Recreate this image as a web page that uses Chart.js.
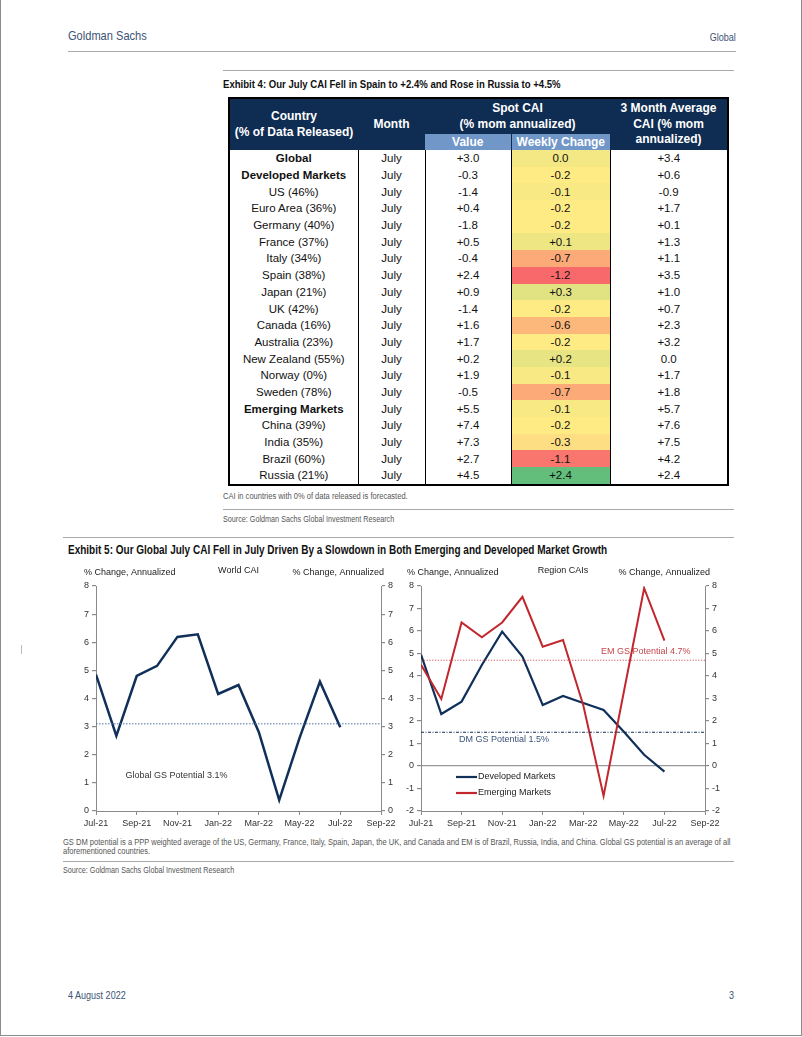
<!DOCTYPE html>
<html>
<head>
<meta charset="utf-8">
<title>CAI</title>
<script src="https://cdn.jsdelivr.net/npm/chart.js@4.4.0/dist/chart.umd.min.js"></script>
<style>
  body { margin: 0; background: #fff; }
  #page {
    position: relative; width: 800px; height: 1035px; overflow: hidden;
    border: 1px solid #8c8c8c; border-top: none;
    font-family: "Liberation Sans", Arial, sans-serif;
  }
  /* no narrow face installed: squeeze Liberation Sans like Arial Narrow */
  .t {
    position: absolute; white-space: nowrap;
    font-family: "Liberation Sans", Arial, sans-serif;
    transform: scaleX(0.82); transform-origin: 0 0;
  }
  .t.r { transform-origin: 100% 0; }
  .rule { position: absolute; height: 0; border-top: 1px solid #a9a9a9; }
  .brand { color: #3b5374; font-size: 13.5px; line-height: 16px; }
  .exh { font-weight: bold; font-size: 12px; line-height: 13px; color: #111; }
  .note { font-size: 9.2px; line-height: 9px; color: #555; }
  .src { font-size: 8.8px; line-height: 10px; color: #555; }

  #cai {
    position: absolute; left: 227px; top: 97px; width: 499px;
    border-collapse: collapse; table-layout: fixed;
    border: 2px solid #000; font-size: 11.5px; color: #111;
  }
  #cai th {
    background: #0f2c52; color: #fff; font-weight: bold; font-size: 12px;
    line-height: 15.5px; padding: 0; text-align: center;
  }
  #cai th.sub { background: #7196c8; height: 16px; line-height: 15px; }
  #cai th.sub + th.sub { border-left: 1px solid #0f2c52; }
  #cai td { padding: 0; height: 16.7px; line-height: 16px; text-align: center; }
  #cai td + td { border-left: 1.5px solid #000; }
  #cai td.b { font-weight: bold; }

  .chartbox { position: absolute; }
</style>
</head>
<body>
<div id="page">
  <div class="t brand" style="left:67px; top:28px;">Goldman Sachs</div>
  <div class="t brand r" style="right:65px; top:30px; font-size:11px; line-height:14px;">Global</div>
  <div class="rule" style="left:67px; top:51px; width:668px;"></div>

  <div class="rule" style="left:222px; top:70px; width:511px;"></div>
  <div class="t exh" style="left:222px; top:77px; font-size:11.7px;">Exhibit 4: Our July CAI Fell in Spain to +2.4% and Rose in Russia to +4.5%</div>

  <table id="cai">
    <colgroup>
      <col style="width:129px"><col style="width:67px"><col style="width:86px"><col style="width:99px"><col style="width:118px">
    </colgroup>
    <thead>
      <tr style="height:36px">
        <th rowspan="2">Country<br>(% of Data Released)</th>
        <th rowspan="2">Month</th>
        <th colspan="2">Spot CAI<br>(% mom annualized)</th>
        <th rowspan="2">3 Month Average<br>CAI (% mom<br>annualized)</th>
      </tr>
      <tr>
        <th class="sub">Value</th>
        <th class="sub">Weekly Change</th>
      </tr>
    </thead>
    <tbody id="caiBody"></tbody>
  </table>

  <div class="t note" style="left:222px; top:492px;">CAI in countries with 0% of data released is forecasted.</div>
  <div class="rule" style="left:222px; top:509px; width:511px;"></div>
  <div class="t src" style="left:222px; top:514px;">Source: Goldman Sachs Global Investment Research</div>

  <div class="rule" style="left:62px; top:537px; width:671px;"></div>
  <div class="t exh" style="left:67px; top:544px; font-size:12.2px;">Exhibit 5: Our Global July CAI Fell in July Driven By a Slowdown in Both Emerging and Developed Market Growth</div>

  <div class="chartbox" style="left:62px; top:562px; width:338px; height:270px;">
    <canvas id="worldChart" width="338" height="270"></canvas>
  </div>
  <div class="chartbox" style="left:400px; top:562px; width:330px; height:270px;">
    <canvas id="regionChart" width="330" height="270"></canvas>
  </div>

  <div class="t note" style="left:62px; top:838px;">GS DM potential is a PPP weighted average of the US, Germany, France, Italy, Spain, Japan, the UK, and Canada and EM is of Brazil, Russia, India, and China. Global GS potential is an average of all</div>
  <div class="t note" style="left:62px; top:847px;">aforementioned countries.</div>
  <div class="rule" style="left:62px; top:861px; width:671px;"></div>
  <div class="t src" style="left:62px; top:865px;">Source: Goldman Sachs Global Investment Research</div>

  <div style="position:absolute; left:20px; top:645px; width:0; height:9px; border-left:1px solid #bbb;"></div>

  <div class="t brand" style="left:67px; top:988px; font-size:11px; line-height:14px;">4 August 2022</div>
  <div class="t brand r" style="right:67px; top:988px; font-size:11px; line-height:14px;">3</div>
</div>

<script>
// ─── Exhibit 4 table data ────────────────────────────────────────────────

const countries = [
  'Global', 'Developed Markets', 'US (46%)', 'Euro Area (36%)', 'Germany (40%)',
  'France (37%)', 'Italy (34%)', 'Spain (38%)', 'Japan (21%)', 'UK (42%)',
  'Canada (16%)', 'Australia (23%)', 'New Zealand (55%)', 'Norway (0%)', 'Sweden (78%)',
  'Emerging Markets', 'China (39%)', 'India (35%)', 'Brazil (60%)', 'Russia (21%)',
];
const boldRows = ['Global', 'Developed Markets', 'Emerging Markets'];
const monthName = 'July';
const spotValue    = [3.0, -0.3, -1.4, 0.4, -1.8, 0.5, -0.4, 2.4, 0.9, -1.4, 1.6, 1.7, 0.2, 1.9, -0.5, 5.5, 7.4, 7.3, 2.7, 4.5];
const weeklyChange = [0.0, -0.2, -0.1, -0.2, -0.2, 0.1, -0.7, -1.2, 0.3, -0.2, -0.6, -0.2, 0.2, -0.1, -0.7, -0.1, -0.2, -0.3, -1.1, 2.4];
const threeMonth   = [3.4, 0.6, -0.9, 1.7, 0.1, 1.3, 1.1, 3.5, 1.0, 0.7, 2.3, 3.2, 0.0, 1.7, 1.8, 5.7, 7.6, 7.5, 4.2, 2.4];

// ─── Exhibit 5 chart data ────────────────────────────────────────────────

const monthLabels = ['Jul-21', 'Aug-21', 'Sep-21', 'Oct-21', 'Nov-21', 'Dec-21', 'Jan-22',
  'Feb-22', 'Mar-22', 'Apr-22', 'May-22', 'Jun-22', 'Jul-22', 'Aug-22', 'Sep-22'];
const worldCai     = [4.85, 2.67, 4.8, 5.16, 6.19, 6.28, 4.16, 4.48, 2.8, 0.39, 2.6, 4.6, 2.98];
const developedCai = [4.95, 2.31, 2.86, 4.49, 5.97, 4.86, 2.71, 3.11, 2.8, 2.49, 1.52, 0.5, -0.25];
const emergingCai  = [4.5, 2.98, 6.38, 5.72, 6.38, 7.52, 5.3, 5.6, 2.7, -1.33, 3.3, 7.9, 5.57];
const globalPotential = 3.1;
const dmPotential = 1.5;
const emPotential = 4.7;

// ─── Table ───────────────────────────────────────────────────────────────

function fmt(v) {
  return v > 0 ? '+' + v.toFixed(1) : v.toFixed(1);
}

// Excel style 3-colour scale: red (min) / yellow (median) / green (max)
function scaleColor(v, arr) {
  const sorted = [...arr].sort((a, b) => a - b);
  const n = sorted.length;
  const mid = n % 2 ? sorted[(n - 1) / 2] : (sorted[n / 2 - 1] + sorted[n / 2]) / 2;
  const lo = sorted[0], hi = sorted[n - 1];
  const red = [248, 105, 107], yel = [255, 235, 132], grn = [99, 190, 123];
  let a, b, t;
  if (v <= mid) { a = red; b = yel; t = (v - lo) / (mid - lo); }
  else { a = yel; b = grn; t = (v - mid) / (hi - mid); }
  const c = a.map((x, i) => Math.round(x + (b[i] - x) * t));
  return `rgb(${c[0]},${c[1]},${c[2]})`;
}

const body = document.getElementById('caiBody');
countries.forEach((name, i) => {
  const tr = document.createElement('tr');
  const cells = [name, monthName, fmt(spotValue[i]), fmt(weeklyChange[i]), fmt(threeMonth[i])];
  cells.forEach((txt, j) => {
    const td = document.createElement('td');
    td.textContent = txt;
    if (j === 0 && boldRows.includes(name)) td.className = 'b';
    if (j === 3) td.style.background = scaleColor(weeklyChange[i], weeklyChange);
    tr.appendChild(td);
  });
  body.appendChild(tr);
});

// ─── Charts ──────────────────────────────────────────────────────────────

const FONT = '"Liberation Sans", Arial, sans-serif';
const NAVY = '#10305a';
const RED = '#c1272d';
const AXIS = '#8a8a8a';
const AXIS_TITLE = '% Change, Annualized';

Chart.defaults.font.family = FONT;
Chart.defaults.font.size = 9;
Chart.defaults.color = '#333';

const pts = arr => arr.map((y, x) => ({ x, y }));
const flat = v => [{ x: 0, y: v }, { x: monthLabels.length - 1, y: v }];

const pageText = {
  id: 'pageText',
  afterDraw(chart, args, o) {
    const { ctx, chartArea: a, scales } = chart;
    ctx.save();
    ctx.font = `9px ${FONT}`;
    ctx.textBaseline = 'middle';
    ctx.fillStyle = '#222';
    ctx.textAlign = 'left';
    ctx.fillText(AXIS_TITLE, a.left - o.leftOut, a.top - 13);
    ctx.textAlign = 'right';
    ctx.fillText(AXIS_TITLE, a.right + o.rightOut, a.top - 13);
    ctx.textAlign = 'center';
    ctx.fillText(o.title, (a.left + a.right) / 2, a.top - 15);

    ctx.textAlign = 'left';
    (o.notes || []).forEach(n => {
      ctx.fillStyle = n.color;
      ctx.fillText(n.text, scales.x.getPixelForValue(n.x), scales.y.getPixelForValue(n.y));
    });

    (o.legend || []).forEach((it, k) => {
      const y = a.bottom - 34 + k * 16;
      ctx.strokeStyle = it.color;
      ctx.lineWidth = 2.2;
      ctx.beginPath();
      ctx.moveTo(a.left + 35, y);
      ctx.lineTo(a.left + 56, y);
      ctx.stroke();
      ctx.fillStyle = '#222';
      ctx.fillText(it.label, a.left + 57, y);
    });
    ctx.restore();
  },
};

function yAxis(pos, min, max, width, zeroLine) {
  return {
    type: 'linear', position: pos, min, max,
    afterFit: s => { s.width = width; },
    ticks: { stepSize: 1, padding: 3, color: '#333' },
    border: { display: true, color: AXIS, width: 1 },
    grid: {
      drawOnChartArea: !!zeroLine,
      color: c => (zeroLine && c.tick && c.tick.value === 0 ? '#9a9a9a' : 'transparent'),
      lineWidth: 1.2,
      tickColor: AXIS,
      tickLength: 4,
    },
  };
}

function xAxis() {
  return {
    type: 'linear', min: 0, max: monthLabels.length - 1,
    afterFit: s => { s.height = 21; },
    ticks: {
      stepSize: 2, autoSkip: false, maxRotation: 0, padding: 3, color: '#333',
      callback: v => monthLabels[v] ?? '',
    },
    border: { display: true, color: AXIS, width: 1 },
    grid: { drawOnChartArea: false, tickColor: AXIS, tickLength: 4 },
  };
}

function lineSet(label, data, color, width) {
  return {
    label, data, borderColor: color, borderWidth: width,
    pointRadius: 0, tension: 0, fill: false,
  };
}

function refSet(label, value, color, dash, width) {
  return {
    label, data: flat(value), borderColor: color, borderWidth: width || 1,
    borderDash: dash, pointRadius: 0, fill: false,
  };
}

const baseOptions = {
  responsive: false,
  animation: false,
  events: [],
  layout: { padding: { top: 24, right: 0, bottom: 0, left: 0 } },
};

new Chart(document.getElementById('worldChart'), {
  type: 'line',
  data: {
    datasets: [
      refSet('Global GS Potential', globalPotential, '#4f72a0', [1.5, 1.5], 1),
      lineSet('World CAI', pts(worldCai), NAVY, 2.5),
    ],
  },
  options: {
    ...baseOptions,
    scales: {
      x: xAxis(),
      y: yAxis('left', 0, 8, 33, false),
      y2: yAxis('right', 0, 8, 20, false),
    },
    plugins: {
      legend: { display: false },
      tooltip: { enabled: false },
      pageText: {
        title: 'World CAI', leftOut: 12, rightOut: 3,
        notes: [{ text: 'Global GS Potential 3.1%', x: 1.45, y: 1.25, color: '#333' }],
      },
    },
  },
  plugins: [pageText],
});

new Chart(document.getElementById('regionChart'), {
  type: 'line',
  data: {
    datasets: [
      refSet('EM GS Potential', emPotential, '#d0575c', [1.2, 1.6], 1),
      refSet('DM GS Potential', dmPotential, NAVY, [3, 1.5, 1, 1.5], 1.2),
      lineSet('Emerging Markets', pts(emergingCai), RED, 2),
      lineSet('Developed Markets', pts(developedCai), NAVY, 2.2),
    ],
  },
  options: {
    ...baseOptions,
    scales: {
      x: xAxis(),
      y: yAxis('left', -2, 8, 20, true),
      y2: yAxis('right', -2, 8, 26, false),
    },
    plugins: {
      legend: { display: false },
      tooltip: { enabled: false },
      pageText: {
        title: 'Region CAIs', leftOut: 14, rightOut: 5,
        notes: [
          { text: 'EM GS Potential 4.7%', x: 8.87, y: 5.07, color: '#c4474d' },
          { text: 'DM GS Potential 1.5%', x: 1.87, y: 1.16, color: '#3b5478' },
        ],
        legend: [
          { label: 'Developed Markets', color: NAVY },
          { label: 'Emerging Markets', color: RED },
        ],
      },
    },
  },
  plugins: [pageText],
});
</script>
</body>
</html>
